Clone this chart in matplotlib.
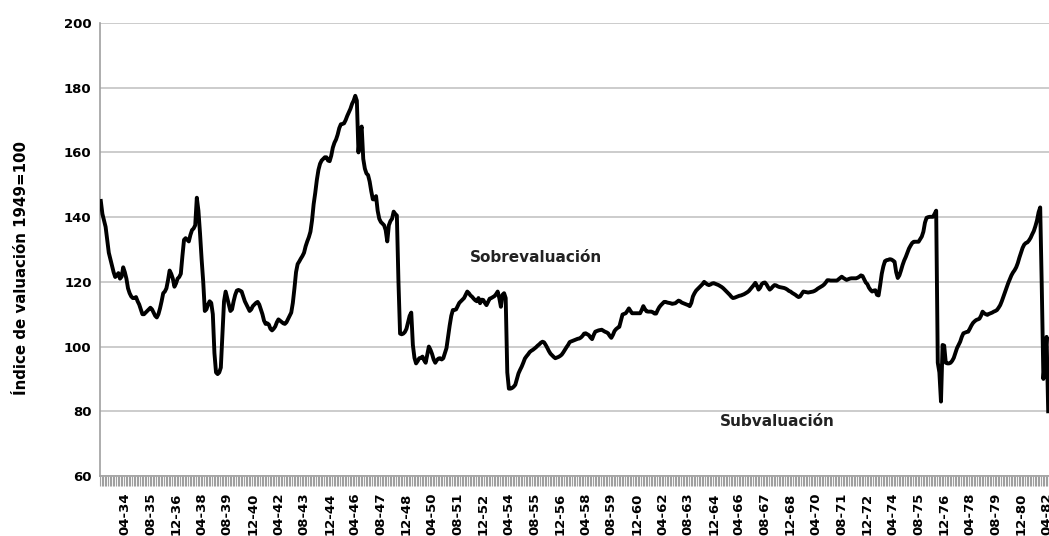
import matplotlib
matplotlib.use("Agg")
import matplotlib.pyplot as plt
import numpy as np

# Monthly valuation index (1949=100), Jan-1933 .. May-1982
values_1930s = [
    145, 141, 139, 137, 133, 129, 127, 125, 123, 121.5, 122, 122.7,          # 1933
    121, 121.6, 124.5, 123, 121, 118, 116.5, 115.5, 115, 115, 115.3, 114,    # 1934
    113, 111.5, 110, 110, 110.5, 111, 111.5, 112, 111.5, 110.5, 109.5, 109,  # 1935
    110, 111.8, 114, 116.5, 117, 118, 120.5, 123.5, 122.5, 121, 118.5, 119.5,  # 1936
    121, 121.5, 122.5, 128, 133, 133.5, 133, 132.5, 134.5, 136, 136.5, 137.5,  # 1937
    146, 142, 135, 127, 120, 111, 111.5, 113, 114, 113.5, 110, 98,           # 1938
    92, 91.5, 92, 93.5, 104, 114, 117, 115, 113, 111, 111.5, 114,            # 1939
]
values_1940s = [
    116, 117.3, 117.5, 117.3, 117, 115.5, 114, 113, 112, 111, 111.5, 112.5,
    113, 113.5, 113.8, 113, 111.5, 110, 108, 107, 107.2, 106.8, 105.5, 105,
    105.5, 106.2, 107.5, 108.4, 108, 107.6, 107.2, 107, 107.5, 108.5, 109.5, 110.5,
    113.5, 118, 123, 125.5, 126.3, 127.2, 128, 129, 131, 132.5, 133.8, 135.5,
    139, 144, 147.5, 151.5, 154.6, 156.5, 157.5, 158, 158.5, 158.5, 157.5, 157.3,
    159, 161.5, 163, 164, 165.5, 167.5, 168.7, 168.8, 169, 170, 171.3, 172.4,
    173.5, 175, 176, 177.5, 176, 160, 166, 168, 158, 155, 153.5, 153,
    151, 148, 145.5, 145.5, 146.5, 142, 139.5, 138.5, 138, 137.5, 136, 132.5,
    137.5, 138.8, 139.5, 141.7, 141, 140.5, 120, 104, 103.8, 104, 104.5, 105.5,
    107.5, 109.5, 110.5, 100.5, 96.5, 94.8, 95.5, 96.4, 96.5, 96.9, 95.8, 95,
]
values_1950s = [
    97.5, 100, 99, 97.7, 96, 95, 95.8, 96.3, 96.4, 96, 96.4, 98,
    99.5, 103, 106.5, 109.5, 111.3, 111.3, 111.5, 112.5, 113.5, 114, 114.5, 115,
    116, 117, 116.5, 115.8, 115.4, 114.8, 114.3, 114, 115, 113.4, 114.5, 114.4,
    113.5, 112.8, 113.8, 114.8, 115, 115.3, 115.6, 116.2, 117, 115, 112.3, 116,
    116.5, 115, 92, 87, 87, 87.2, 87.6, 88.2, 90, 91.7, 92.8, 93.8,
    95, 96.3, 97, 97.6, 98.3, 98.7, 99, 99.4, 99.8, 100.3, 100.7, 101.2,
    101.5, 101.3, 100.5, 99.6, 98.6, 97.8, 97.3, 96.8, 96.4, 96.6, 96.8, 97.1,
    97.5, 98.2, 99, 99.8, 100.5, 101.4, 101.6, 101.8, 102, 102.2, 102.4, 102.5,
    102.8, 103.3, 104, 104.1, 103.8, 103.5, 102.8, 102.3, 103.6, 104.6, 104.8, 105,
    105.1, 105.2, 104.9, 104.6, 104.4, 104.1, 103.3, 102.7, 103.6, 104.8, 105.4, 105.8,
]
values_1960s = [
    106.1, 108, 109.9, 110.1, 110.3, 111, 111.8, 111, 110.3, 110.3, 110.3, 110.3,
    110.3, 110.3, 111.3, 112.5, 111.6, 110.9, 110.8, 110.8, 110.8, 110.6, 110.2, 110.2,
    111.3, 112.2, 112.8, 113.3, 113.8, 113.8, 113.6, 113.5, 113.4, 113.2, 113.3, 113.4,
    113.8, 114.2, 114, 113.6, 113.4, 113.2, 113, 112.8, 112.5, 113.5, 115.5, 116.5,
    117.3, 117.8, 118.3, 118.8, 119.3, 120, 119.6, 119.2, 119, 119.2, 119.5, 119.6,
    119.4, 119.2, 119, 118.7, 118.4, 118, 117.5, 117, 116.5, 116, 115.4, 115,
    115.1, 115.3, 115.5, 115.7, 115.8, 116, 116.2, 116.5, 116.8, 117.2, 117.8, 118.4,
    119, 119.7, 118.8, 117.6, 118.2, 119.3, 119.7, 119.8, 119.2, 118.3, 117.6, 118,
    118.6, 119, 118.9, 118.6, 118.4, 118.3, 118.2, 118.1, 117.9, 117.6, 117.2, 117,
    116.6, 116.3, 116, 115.6, 115.3, 115.5, 116.3, 117, 116.9, 116.8, 116.7, 116.8,
]
values_1970s = [
    116.9, 117, 117.2, 117.5, 117.9, 118.2, 118.5, 118.8, 119.2, 119.8, 120.5, 120.5,
    120.4, 120.4, 120.4, 120.4, 120.4, 120.8, 121.2, 121.6, 121.2, 120.9, 120.6, 120.8,
    121, 121.1, 121.1, 121.1, 121.1, 121.3, 121.6, 122, 121.8, 120.8, 119.8, 119.3,
    118.2, 117.5, 117, 117.3, 117.4, 116, 115.8, 119, 122.5, 124.8, 126.4, 126.7,
    126.8, 127, 126.9, 126.6, 126.2, 123, 121.2, 122, 123.5, 125.2, 126.6, 127.7,
    129, 130.3, 131.2, 132, 132.4, 132.4, 132.4, 132.4, 133.2, 134, 135.5, 138.3,
    139.8, 140, 140.1, 140.1, 140.1, 141, 142, 95, 92, 83, 100.5, 100.3,
    95, 94.8, 94.8, 95, 95.6, 96.5, 98, 99.5, 100.5, 101.5, 103, 104.1,
    104.3, 104.5, 104.6, 105.5, 106.5, 107.3, 107.8, 108.2, 108.4, 108.6, 109.5, 110.8,
    110.3, 110, 109.8, 110.1, 110.3, 110.5, 110.8, 111, 111.3, 112, 112.8, 114,
]
values_1980s = [
    115.4, 116.8, 118.2, 119.6, 120.8, 122, 122.9, 123.6, 124.5, 125.8, 127.5, 129,
    130.5, 131.5, 132, 132.2, 132.8, 133.6, 134.7, 135.7, 137.2, 139, 141.5, 143,
    118, 90, 96, 103, 80,
]

start_year = 1933
tick_labels = ["04-34", "08-35", "12-36", "04-38", "08-39", "12-40", "04-42", "08-43",
               "12-44", "04-46", "08-47", "12-48", "04-50", "08-51", "12-52", "04-54",
               "08-55", "12-56", "04-58", "08-59", "12-60", "04-62", "08-63", "12-64",
               "04-66", "08-67", "12-68", "04-70", "08-71", "12-72", "04-74", "08-75",
               "12-76", "04-78", "08-79", "12-80", "04-82"]
y_ticks = [60, 80, 100, 120, 140, 160, 180, 200]

values = values_1930s + values_1940s + values_1950s + values_1960s + values_1970s + values_1980s
n = len(values)
x = np.arange(n)


def label_index(lbl):
    m, yy = lbl.split("-")
    return (1900 + int(yy) - start_year) * 12 + int(m) - 1


tick_pos = [label_index(t) for t in tick_labels]

fig = plt.figure(figsize=(10.49, 5.36), dpi=100)
ax = fig.add_axes([100 / 1049, 60 / 536, 949 / 1049, 453 / 536])

ax.plot(x, values, color="black", linewidth=2.8, solid_joinstyle="round", zorder=3)

ax.set_xlim(-0.5, n - 0.5)
ax.set_ylim(60, 200)
ax.set_yticks(y_ticks)
ax.yaxis.grid(True, color="#c8c8c8", linewidth=1.3, zorder=0)
ax.set_axisbelow(True)

ax.set_xticks(tick_pos)
ax.set_xticklabels(tick_labels, rotation=90, fontsize=9.5, fontweight="bold")
ax.set_xticks(np.arange(n + 1) - 0.5, minor=True)
ax.tick_params(axis="x", which="major", length=0, pad=12)
ax.tick_params(axis="x", which="minor", length=7, width=0.8, color="#a0a0a0")
ax.tick_params(axis="y", length=0, pad=6, labelsize=9.5)
for lab in ax.get_yticklabels():
    lab.set_fontweight("bold")

for side in ["top", "right"]:
    ax.spines[side].set_visible(False)
ax.spines["left"].set_color("#a0a0a0")
ax.spines["bottom"].set_color("#a0a0a0")
ax.spines["left"].set_linewidth(1.2)
ax.spines["bottom"].set_linewidth(1.2)

ax.set_ylabel("Índice de valuación 1949=100", fontsize=10.8, fontweight="bold")
ax.yaxis.set_label_coords(-0.075, 0.46)

ax.text(230.5, 127.4, "Sobrevaluación", fontsize=11, fontweight="bold", color="#222222",
        va="center", ha="left")
ax.text(387, 76.8, "Subvaluación", fontsize=11, fontweight="bold", color="#222222",
        va="center", ha="left")

fig.savefig("out.png", dpi=100)
